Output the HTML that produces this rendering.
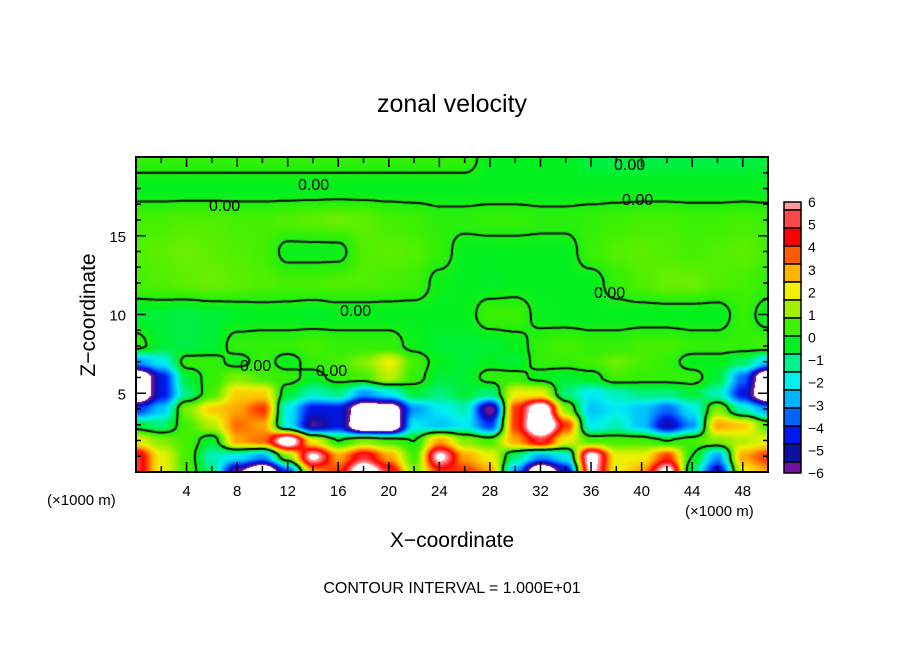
<!DOCTYPE html>
<html><head><meta charset="utf-8"><style>
body{margin:0;background:#fff;width:904px;height:654px;overflow:hidden;position:relative;font-family:"Liberation Sans",sans-serif}
svg{position:absolute;left:0;top:0}
canvas{position:absolute;left:136px;top:157px}
</style></head><body>
<canvas id="plot" width="632" height="315"></canvas>
<svg id="svg" width="904" height="654">
<text x="452" y="112" font-size="25" text-anchor="middle">zonal velocity</text>
<text x="452" y="547" font-size="21" text-anchor="middle">X−coordinate</text>
<text transform="translate(95,315) rotate(-90)" font-size="21" text-anchor="middle">Z−coordinate</text>
<text x="47" y="505" font-size="15">(×1000 m)</text>
<text x="685" y="516" font-size="15">(×1000 m)</text>
<text x="452" y="593" font-size="16" text-anchor="middle">CONTOUR INTERVAL = 1.000E+01</text>
<g id="labels" font-size="16">
<text x="614" y="170">0.00</text><text x="622" y="205">0.00</text><text x="298" y="190">0.00</text>
<text x="209" y="211">0.00</text><text x="594" y="298">0.00</text><text x="340" y="316">0.00</text>
<text x="240" y="371">0.00</text><text x="316" y="376">0.00</text>
</g>
<g id="axes"></g>
</svg>
<script>
const xKm = [0,2,4,6,8,10,12,14,16,18,20,22,24,26,28,30,32,34,36,38,40,42,44,46,48,50];
const zKm = [0,1,2,3,4,5,6,7,8,10,12,14,16,18,20];
const velZ0 = [5,2,0.5,-1,-6,-9,-4,3,4,8,5,1,4,4,3,-3,-9,-5,6.5,2,3,7,-1,-5,2,3];
const velZ1 = [5,2,0.5,-1.5,-2,-3,1,6.5,3,5,3,0.5,6.5,3,2,-1,-3,-2,7,2,2,4,0,-3,3,4];
const velZ2 = [2,1,0.5,-0.5,3,3.5,7.5,2,0,1,0.5,0,3,1,0.5,3,5,2,0.5,0.5,0.5,0,0.5,1,1.5,2];
const velZ3 = [-0.5,-1,0.5,1.5,3.5,3,-2,-5.5,-4.5,-9,-9,-2,-2.5,-2,-4,4,9,4,-2,-1.5,-2.5,-5,-3,3,2.5,0.5];
const velZ4 = [-4,-2.5,1,2.5,3,4,-2,-4.5,-4.5,-8,-8,-3,-2,-1.5,-6,4,8,1,-2.5,-2,-2.5,-3.5,-2,1,-1.5,-3];
const velZ5 = [-9,-4.5,-1,0.5,2.5,2.5,-0.5,-1.5,-1,-3,-2,-0.5,-1,-0.5,-1,2,2,-1,-2,-1.5,-1,-1,-0.5,-1.5,-4.5,-9];
const velZ6 = [-9,-4.5,-0.5,0.3,1,0.5,0.3,-0.3,0.3,0.5,1.5,0.3,-0.5,-0.5,0.3,0.3,-0.3,-0.5,-0.3,0.5,0.3,0.3,0.3,-0.5,-3.5,-9];
const velZ7 = [-3,-2,0.3,0.3,-0.3,0.3,-0.3,0.3,0.5,1,2,0.5,-0.3,-0.5,-0.3,-0.5,0.3,0.3,0.5,0.8,0.5,0.3,-0.3,-0.3,-0.8,-2.5];
const velZ8 = [0.3,-0.5,-0.6,-0.5,0.3,0.3,0.3,0.5,0.3,0.3,0.3,-0.2,-0.5,-0.5,-0.5,-0.3,0.3,0.5,0.3,0.3,0.5,0.5,0.3,0.3,0.3,0.5];
const velZ10 = [-0.5,-0.5,-0.6,-0.5,-0.4,-0.3,-0.3,-0.4,-0.3,-0.3,-0.3,-0.3,-0.3,-0.3,0.4,0.4,-0.2,-0.3,-0.3,-0.3,-0.3,-0.3,-0.3,-0.3,0.3,-0.3];
const velZ12 = [0.5,0.6,0.7,0.8,0.7,0.6,0.5,0.5,0.6,0.6,0.5,0.4,-0.2,-0.3,-0.4,-0.3,-0.3,-0.3,-0.3,0.3,0.6,0.8,0.8,0.6,0.5,0.3];
const velZ14 = [0.6,0.7,0.8,0.7,0.6,0.5,-0.2,-0.2,-0.2,0.6,0.7,0.6,0.3,-0.3,-0.3,-0.3,-0.3,-0.3,0.4,0.6,0.7,0.6,0.5,0.6,0.7,0.5];
const velZ16 = [0.5,0.5,0.6,0.6,0.5,0.5,0.6,0.7,0.8,0.7,0.5,0.4,0.2,0.2,0.3,0.3,0.2,0.2,0.3,0.4,0.5,0.5,0.4,0.4,0.5,0.4];
const velZ18 = [-0.3,-0.3,-0.3,-0.3,-0.3,-0.3,-0.3,-0.3,-0.3,-0.3,-0.3,-0.3,-0.3,-0.3,-0.3,-0.3,-0.3,-0.3,-0.3,-0.3,-0.3,-0.3,-0.3,-0.3,-0.3,-0.3];
const velZ20 = [0.3,0.3,0.3,0.3,0.3,0.3,0.3,0.3,0.3,0.3,0.3,0.3,0.3,0.3,-0.3,-0.3,-0.3,-0.3,-0.6,-0.6,-0.6,-0.6,-0.6,-0.6,-0.6,-0.6];
const xTicks = [4,8,12,16,20,24,28,32,36,40,44,48];
const zTicks = [5,10,15];
const cbLabels = [6,5,4,3,2,1,0,-1,-2,-3,-4,-5,-6];
const cbColors = ["#ff9898","#ff4848","#ff0000","#ff5a00","#ffb400","#f0f000","#a0f000","#40f000","#00f020","#00f090","#00f0f0","#00b4ff","#0064ff","#0018f0","#1010a0","#7010a0"];

const rows = [velZ0,velZ1,velZ2,velZ3,velZ4,velZ5,velZ6,velZ7,velZ8,velZ10,velZ12,velZ14,velZ16,velZ18,velZ20];
const X0=136, X1=768, Y0=472, Y1=157, XMAX=50, ZMAX=20;
const sx = x => X0 + x*(X1-X0)/XMAX;
const sz = z => Y0 - z*(Y0-Y1)/ZMAX;
function val(x,z){
  let i=Math.min(xKm.length-2,Math.max(0,Math.floor((x-xKm[0])/(xKm[1]-xKm[0]))));
  let tx=(x-xKm[i])/(xKm[i+1]-xKm[i]);
  let j=0; while(j<zKm.length-2 && z>zKm[j+1]) j++;
  let tz=(z-zKm[j])/(zKm[j+1]-zKm[j]);
  tx=Math.max(0,Math.min(1,tx)); tz=Math.max(0,Math.min(1,tz));
  const sm=t=>t*t*(3-2*t);
  tx=sm(tx); tz=sm(tz);
  const a=rows[j][i],b=rows[j][i+1],c=rows[j+1][i],d=rows[j+1][i+1];
  return (a*(1-tx)+b*tx)*(1-tz)+(c*(1-tx)+d*tx)*tz;
}
const cbTop=202, cbBot=473, unit=(cbBot-cbTop)/12;
const boxEdges=[202,210];for(let k=1;k<=14;k++)boxEdges.push(210+18*k);boxEdges.push(473);
const hex=h=>[parseInt(h.substr(1,2),16),parseInt(h.substr(3,2),16),parseInt(h.substr(5,2),16)];
const stops=cbColors.map((c,k)=>({v:6-((boxEdges[k]+boxEdges[k+1])/2-cbTop)/unit,c:hex(c)}));
function color(v){
  if(v>6.1||v<-6.2) return [255,255,255];
  if(v>=stops[0].v) return stops[0].c;
  for(let k=0;k<stops.length-1;k++){
    if(v<=stops[k].v&&v>=stops[k+1].v){const t=(stops[k].v-v)/(stops[k].v-stops[k+1].v);
      return stops[k].c.map((q,n)=>Math.round(q*(1-t)+stops[k+1].c[n]*t));}
  }
  return stops[stops.length-1].c;
}
const cv=document.getElementById('plot'), ctx=cv.getContext('2d');
const W=cv.width,H=cv.height, img=ctx.createImageData(W,H);
for(let py=0;py<H;py++)for(let px=0;px<W;px++){
  const x=px/W*XMAX, z=(H-py)/H*ZMAX, c=color(val(x,z)), o=(py*W+px)*4;
  img.data[o]=c[0];img.data[o+1]=c[1];img.data[o+2]=c[2];img.data[o+3]=255;
}
ctx.putImageData(img,0,0);
const st=3, nx=Math.ceil(W/st)+1, ny=Math.ceil(H/st)+1, g=[];
for(let j=0;j<ny;j++){g.push([]);for(let i=0;i<nx;i++)g[j].push(val(Math.min(W,i*st)/W*XMAX,(H-Math.min(H,j*st))/H*ZMAX));}
ctx.strokeStyle='#000';ctx.lineWidth=2;ctx.beginPath();
for(let j=0;j<ny-1;j++)for(let i=0;i<nx-1;i++){
  const p=[[i*st,j*st,g[j][i]],[(i+1)*st,j*st,g[j][i+1]],[(i+1)*st,(j+1)*st,g[j+1][i+1]],[i*st,(j+1)*st,g[j+1][i]]];
  const pts=[];
  for(let e=0;e<4;e++){const a=p[e],b=p[(e+1)%4];
    if((a[2]>0)!==(b[2]>0)){const t=a[2]/(a[2]-b[2]);pts.push([a[0]+(b[0]-a[0])*t,a[1]+(b[1]-a[1])*t]);}}
  for(let k=0;k+1<pts.length;k+=2){ctx.moveTo(pts[k][0],pts[k][1]);ctx.lineTo(pts[k+1][0],pts[k+1][1]);}
}
ctx.stroke();
const NS='http://www.w3.org/2000/svg', ax=document.getElementById('axes');
function mk(tag,attrs,txt){const e=document.createElementNS(NS,tag);for(const k in attrs)e.setAttribute(k,attrs[k]);if(txt!==undefined)e.textContent=txt;ax.appendChild(e);return e;}
const frame=mk('rect',{x:X0,y:Y1,width:X1-X0,height:Y0-Y1,fill:'none',stroke:'#000','stroke-width':2});


for(let x=2;x<XMAX;x+=2){const L=(x%4===0)?10:6;
  mk('line',{x1:sx(x),x2:sx(x),y1:Y0,y2:Y0-L,stroke:'#000','stroke-width':1.5});
  mk('line',{x1:sx(x),x2:sx(x),y1:Y1,y2:Y1+L,stroke:'#000','stroke-width':1.5});}
for(let z=1;z<ZMAX;z++){const L=(z%5===0)?10:5;
  mk('line',{x1:X0,x2:X0+L,y1:sz(z),y2:sz(z),stroke:'#000','stroke-width':1.5});
  mk('line',{x1:X1,x2:X1-L,y1:sz(z),y2:sz(z),stroke:'#000','stroke-width':1.5});}
xTicks.forEach(x=>{const t=mk('text',{x:sx(x),y:496,'font-size':15,'text-anchor':'middle'},String(x));
  
  });
zTicks.forEach(z=>{const t=mk('text',{x:126,y:sz(z)+6,'font-size':15,'text-anchor':'end'},String(z));
  
  });
cbColors.forEach((c,k)=>{const r=mk('rect',{x:784,y:boxEdges[k],width:17,height:boxEdges[k+1]-boxEdges[k],fill:c,stroke:'#000','stroke-width':1.5});
  
  });
cbLabels.forEach(v=>{const t=mk('text',{x:808,y:cbTop+(6-v)*unit+5,'font-size':14},v<0?'−'+(-v):String(v));
  
  });
</script>
</body></html>
